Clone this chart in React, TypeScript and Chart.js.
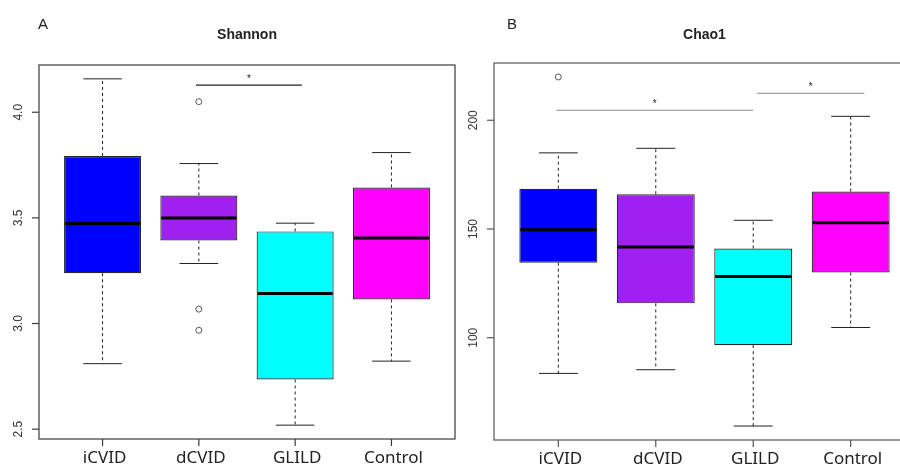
import React, { useEffect, useRef } from "react";
import { Chart, registerables } from "chart.js";

Chart.register(...registerables);

// ---------- data ----------
const categories = ["iCVID", "dCVID", "GLILD", "Control"];
const boxColors = ["#0000FF", "#A020F0", "#00FFFF", "#FF00FF"];

// Shannon (panel A)
const shannonMin = [2.81, 3.284, 2.519, 2.822];
const shannonQ1 = [3.238, 3.393, 2.735, 3.114];
const shannonMedian = [3.473, 3.499, 3.142, 3.405];
const shannonQ3 = [3.793, 3.606, 3.436, 3.644];
const shannonMax = [4.158, 3.757, 3.475, 3.809];
const shannonOutliers = [[], [4.05, 3.068, 2.968], [], []];
const shannonTicks = [2.5, 3.0, 3.5, 4.0];
const shannonSigFrom = [1.97];
const shannonSigTo = [3.07];
const shannonSigAt = [4.128];

// Chao1 (panel B)
const chaoMin = [83.6, 85.3, 59.4, 104.7];
const chaoQ1 = [134.5, 115.8, 96.6, 130.0];
const chaoMedian = [149.7, 141.7, 128.1, 152.9];
const chaoQ3 = [168.5, 166.0, 141.0, 167.2];
const chaoMax = [185.0, 187.1, 154.0, 201.8];
const chaoOutliers = [[219.9], [], [], []];
const chaoTicks = [100, 150, 200];
const chaoSigFrom = [0.98, 3.04];
const chaoSigTo = [3.0, 4.14];
const chaoSigAt = [204.6, 212.4];

type Panel = {
  letter: string;
  title: string;
  min: number[];
  q1: number[];
  median: number[];
  q3: number[];
  max: number[];
  outliers: number[][];
  ticks: number[];
  decimals: number;
  sigFrom: number[];
  sigTo: number[];
  sigAt: number[];
  frameColor: string;
  sigColor: string;
  letterX: number;
};

const panelA: Panel = {
  letter: "A",
  title: "Shannon",
  min: shannonMin,
  q1: shannonQ1,
  median: shannonMedian,
  q3: shannonQ3,
  max: shannonMax,
  outliers: shannonOutliers,
  ticks: shannonTicks,
  decimals: 1,
  sigFrom: shannonSigFrom,
  sigTo: shannonSigTo,
  sigAt: shannonSigAt,
  frameColor: "#3a3a3a",
  sigColor: "#222222",
  letterX: 38,
};

const panelB: Panel = {
  letter: "B",
  title: "Chao1",
  min: chaoMin,
  q1: chaoQ1,
  median: chaoMedian,
  q3: chaoQ3,
  max: chaoMax,
  outliers: chaoOutliers,
  ticks: chaoTicks,
  decimals: 0,
  sigFrom: chaoSigFrom,
  sigTo: chaoSigTo,
  sigAt: chaoSigAt,
  frameColor: "#555555",
  sigColor: "#8a8a8a",
  letterX: 47,
};

// R-style range: data extent extended by 4% on each side
function rRange(lo: number, hi: number): [number, number] {
  const d = (hi - lo) * 0.04;
  return [lo - d, hi + d];
}

const rBoxPlugin = {
  id: "rBox",
  afterDatasetsDraw(chart: any, _args: any, opts: any) {
    const p: Panel = opts.panel;
    const { ctx } = chart;
    const y = chart.scales.y;
    const meta = chart.getDatasetMeta(0);
    ctx.save();
    categories.forEach((_c, i) => {
      const bar: any = meta.data[i];
      const cx = bar.x;
      const half = bar.width / 2;
      const capHalf = half / 2;
      const yq1 = y.getPixelForValue(p.q1[i]);
      const yq3 = y.getPixelForValue(p.q3[i]);
      const ylo = y.getPixelForValue(p.min[i]);
      const yhi = y.getPixelForValue(p.max[i]);
      const ymed = y.getPixelForValue(p.median[i]);
      ctx.strokeStyle = "#222";
      ctx.lineWidth = 1;
      ctx.setLineDash([3, 3]);
      ctx.beginPath();
      ctx.moveTo(cx, yq3);
      ctx.lineTo(cx, yhi);
      ctx.moveTo(cx, yq1);
      ctx.lineTo(cx, ylo);
      ctx.stroke();
      ctx.setLineDash([]);
      ctx.beginPath();
      ctx.moveTo(cx - capHalf, yhi);
      ctx.lineTo(cx + capHalf, yhi);
      ctx.moveTo(cx - capHalf, ylo);
      ctx.lineTo(cx + capHalf, ylo);
      ctx.stroke();
      ctx.strokeStyle = "#000";
      ctx.lineWidth = 3;
      ctx.beginPath();
      ctx.moveTo(cx - half + 1, ymed);
      ctx.lineTo(cx + half - 1, ymed);
      ctx.stroke();
    });
    ctx.restore();
  },
  afterDraw(chart: any, _args: any, opts: any) {
    const p: Panel = opts.panel;
    const { ctx, chartArea: ca } = chart;
    const x = chart.scales.x;
    const y = chart.scales.y;
    ctx.save();
    // frame
    ctx.strokeStyle = p.frameColor;
    ctx.lineWidth = 1.2;
    ctx.strokeRect(ca.left, ca.top, ca.right - ca.left, ca.bottom - ca.top);

    // y ticks + rotated labels
    ctx.fillStyle = "#333";
    ctx.font = "12px 'Liberation Sans', Arial, sans-serif";
    y.ticks.forEach((t: any) => {
      const py = y.getPixelForValue(t.value);
      ctx.beginPath();
      ctx.moveTo(ca.left - 7, py);
      ctx.lineTo(ca.left, py);
      ctx.stroke();
      const lbl = Number(t.value).toFixed(p.decimals);
      ctx.save();
      ctx.translate(ca.left - 20, py);
      ctx.rotate(-Math.PI / 2);
      ctx.textAlign = "center";
      ctx.textBaseline = "middle";
      ctx.fillText(lbl, 0, 0);
      ctx.restore();
    });

    // x ticks + labels
    ctx.fillStyle = "#222";
    ctx.font = "17px 'Noto Sans', 'Open Sans', sans-serif";
    ctx.textAlign = "center";
    ctx.textBaseline = "alphabetic";
    x.ticks.forEach((t: any, i: number) => {
      const px = x.getPixelForValue(t.value);
      ctx.beginPath();
      ctx.moveTo(px, ca.bottom);
      ctx.lineTo(px, ca.bottom + 7);
      ctx.stroke();
      ctx.fillText(categories[i], px + 2, ca.bottom + 24);
    });

    // significance lines
    p.sigFrom.forEach((f, k) => {
      const x1 = x.getPixelForValue(f);
      const x2 = x.getPixelForValue(p.sigTo[k]);
      const py = y.getPixelForValue(p.sigAt[k]);
      ctx.strokeStyle = p.sigColor;
      ctx.lineWidth = 1.2;
      ctx.beginPath();
      ctx.moveTo(x1, py);
      ctx.lineTo(x2, py);
      ctx.stroke();
      ctx.fillStyle = "#222";
      ctx.font = "10px 'Liberation Sans', Arial, sans-serif";
      ctx.textAlign = "center";
      ctx.fillText("*", (x1 + x2) / 2, py - 3);
    });

    // title
    ctx.fillStyle = "#222";
    ctx.font = "bold 14px 'Liberation Sans', Arial, sans-serif";
    ctx.textAlign = "center";
    ctx.fillText(p.title, (ca.left + ca.right) / 2, 39);

    // panel letter
    ctx.font = "15px 'Liberation Sans', Arial, sans-serif";
    ctx.textAlign = "left";
    ctx.fillText(p.letter, p.letterX, 29);
    ctx.restore();
  },
};

function buildConfig(p: Panel, padding: any) {
  const all = [...p.min, ...p.max, ...p.outliers.flat()];
  const [ymin, ymax] = rRange(Math.min(...all), Math.max(...all));
  const outlierPoints: { x: number; y: number }[] = [];
  p.outliers.forEach((vals, i) => vals.forEach((v) => outlierPoints.push({ x: i + 1, y: v })));
  return {
    type: "bar",
    data: {
      datasets: [
        {
          type: "bar",
          data: categories.map((_c, i) => ({ x: i + 1, y: [p.q1[i], p.q3[i]] })),
          backgroundColor: boxColors,
          borderColor: "#2a2a2a",
          borderWidth: 1.2,
          borderSkipped: false,
          categoryPercentage: 1,
          barPercentage: 0.8,
        },
        {
          type: "scatter",
          data: outlierPoints,
          pointStyle: "circle",
          pointRadius: 3,
          pointBorderColor: "#555",
          pointBackgroundColor: "rgba(255,255,255,0)",
          pointBorderWidth: 1,
          clip: false,
        },
      ],
    },
    options: {
      responsive: false,
      animation: false,
      devicePixelRatio: 1,
      layout: { padding },
      events: [],
      scales: {
        x: {
          type: "linear",
          min: 0.34,
          max: 4.66,
          offset: false,
          display: false,
          afterBuildTicks: (s: any) => {
            s.ticks = categories.map((_c, i) => ({ value: i + 1 }));
          },
        },
        y: {
          type: "linear",
          min: ymin,
          max: ymax,
          display: false,
          afterBuildTicks: (s: any) => {
            s.ticks = p.ticks.map((v) => ({ value: v }));
          },
        },
      },
      plugins: {
        legend: { display: false },
        tooltip: { enabled: false },
        title: { display: false },
        rBox: { panel: p },
      },
    },
    plugins: [rBoxPlugin],
  };
}

export default function App() {
  const refA = useRef<HTMLCanvasElement | null>(null);
  const refB = useRef<HTMLCanvasElement | null>(null);

  useEffect(() => {
    const a = new Chart(refA.current as HTMLCanvasElement, buildConfig(panelA, { left: 39, right: 3, top: 65, bottom: 33 }) as any);
    const b = new Chart(refB.current as HTMLCanvasElement, buildConfig(panelB, { left: 34, right: 5, top: 63, bottom: 32 }) as any);
    return () => {
      a.destroy();
      b.destroy();
    };
  }, []);

  return (
    <div
      style={{
        position: "fixed",
        left: 0,
        top: 0,
        width: 900,
        height: 472,
        overflow: "hidden",
        background: "#fff",
      }}
    >
      <canvas ref={refA} width={460} height={472} style={{ position: "absolute", left: 0, top: 0 }} />
      <canvas ref={refB} width={460} height={472} style={{ position: "absolute", left: 460, top: 0 }} />
    </div>
  );
}
